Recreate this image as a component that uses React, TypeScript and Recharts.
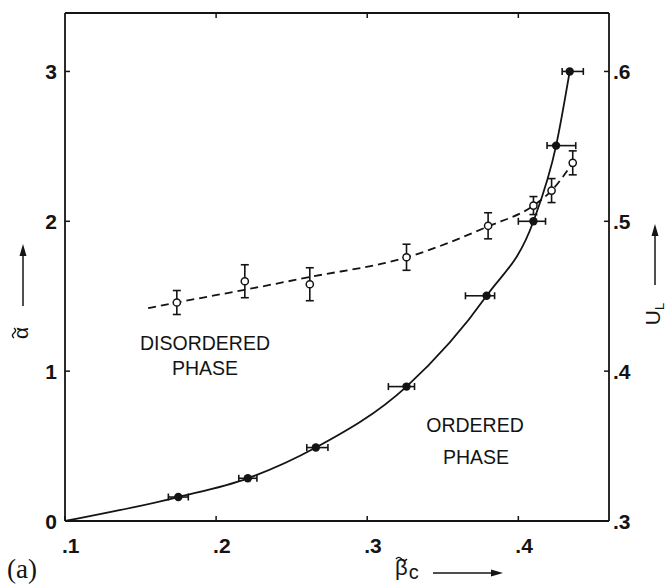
import React from 'react';
import { ComposedChart, XAxis, YAxis, Line, Scatter, ErrorBar } from 'recharts';

const W = 671;
const H = 588;
const INK = '#141414';
const SANS = '"Liberation Sans", Arial, Helvetica, sans-serif';

// Axis ticks
const betaTicks = [0.1, 0.2, 0.3, 0.4];
const betaTopTicks = [0.2, 0.3, 0.4];
const alphaTicks = [0, 1, 2, 3];
const ulTicks = [0.3, 0.4, 0.5, 0.6];

// Ordered / disordered boundary: α̃ against β̃c (filled points, horizontal errors)
const boundaryBeta = [0.175, 0.221, 0.266, 0.326, 0.379, 0.41, 0.425, 0.434];
const boundaryAlpha = [0.16, 0.285, 0.49, 0.897, 1.503, 2.0, 2.505, 3.0];
const boundaryBetaErr = [
  [0.0066, 0.0066],
  [0.006, 0.006],
  [0.006, 0.008],
  [0.012, 0.0053],
  [0.014, 0.0053],
  [0.01, 0.008],
  [0.006, 0.013],
  [0.005, 0.009],
];
// Solid guide curve through the boundary
const boundaryCurveBeta = [0.1, 0.175, 0.221, 0.266, 0.326, 0.379, 0.41, 0.425, 0.434];
const boundaryCurveAlpha = [0.0, 0.16, 0.285, 0.49, 0.897, 1.503, 2.0, 2.505, 3.0];

// Cumulant U_L at the transition (open points, right axis)
const cumulantBeta = [0.174, 0.219, 0.262, 0.326, 0.38, 0.41, 0.422, 0.436];
const cumulantUL = [0.4458, 0.46, 0.458, 0.476, 0.497, 0.5105, 0.5205, 0.539];
const cumulantErr = [0.008, 0.011, 0.011, 0.0087, 0.0087, 0.006, 0.008, 0.008];
// Dashed fit through the cumulant values
const cumulantCurveBeta = [0.155, 0.174, 0.219, 0.262, 0.326, 0.38, 0.41, 0.422, 0.436];
const cumulantCurveUL = [0.442, 0.4458, 0.4543, 0.4628, 0.4759, 0.4966, 0.5105, 0.5205, 0.539];

const boundaryPoints = boundaryBeta.map((x, i) => ({ x, y: boundaryAlpha[i], ex: boundaryBetaErr[i] }));
const boundaryCurve = boundaryCurveBeta.map((x, i) => ({ x, y: boundaryCurveAlpha[i] }));
const cumulantPoints = cumulantBeta.map((x, i) => ({ x, y: cumulantUL[i], ey: cumulantErr[i] }));
const cumulantCurve = cumulantCurveBeta.map((x, i) => ({ x, y: cumulantCurveUL[i] }));

const decimal = (v: number) => v.toFixed(1).replace(/^0/, '');

const tickText = {
  fontFamily: SANS,
  fontSize: 21,
  fontWeight: 700,
  fill: INK,
} as const;

const BottomTick = (p: any) => (
  <g>
    <line x1={p.x} y1={p.y} x2={p.x} y2={p.y - 5} stroke={INK} strokeWidth={1.5} />
    <text x={p.x - 3} y={p.y + 32} textAnchor="start" {...tickText}>
      {decimal(p.payload.value)}
    </text>
  </g>
);

const TopTick = (p: any) => (
  <line x1={p.x} y1={p.y} x2={p.x} y2={p.y + 5} stroke={INK} strokeWidth={1.5} />
);

const LeftTick = (p: any) => (
  <g>
    <line x1={p.x} y1={p.y} x2={p.x + 5} y2={p.y} stroke={INK} strokeWidth={1.5} />
    <text x={p.x - 8} y={p.y + 8} textAnchor="end" {...tickText}>
      {String(p.payload.value)}
    </text>
  </g>
);

const RightTick = (p: any) => (
  <g>
    <line x1={p.x} y1={p.y} x2={p.x - 5} y2={p.y} stroke={INK} strokeWidth={1.5} />
    <text x={p.x + 4} y={p.y + 8} textAnchor="start" {...tickText}>
      {decimal(p.payload.value)}
    </text>
  </g>
);

const FilledDot = (p: any) => <circle cx={p.cx} cy={p.cy} r={4.2} fill={INK} />;
const OpenDot = (p: any) => (
  <circle cx={p.cx} cy={p.cy} r={3.6} fill="#fff" stroke={INK} strokeWidth={1.5} />
);

const axisLine = { stroke: INK, strokeWidth: 1.8 };

const phaseText = {
  fontFamily: SANS,
  fontSize: 19.5,
  fill: INK,
  textAnchor: 'middle',
} as const;

export default function App() {
  return (
    <div style={{ position: 'absolute', left: 0, top: 0, width: W, height: H, background: '#fff' }}>
      <ComposedChart width={W} height={H} margin={{ top: 0, right: 0, bottom: 0, left: 0 }}>
        <XAxis
          xAxisId="b"
          dataKey="x"
          type="number"
          domain={[0.1, 0.46]}
          ticks={betaTicks}
          allowDataOverflow
          height={67}
          tickSize={0}
          tickMargin={0}
          tickLine={false}
          axisLine={axisLine}
          tick={BottomTick}
          interval={0}
        />
        <XAxis
          xAxisId="t"
          orientation="top"
          dataKey="x"
          type="number"
          domain={[0.1, 0.46]}
          ticks={betaTopTicks}
          allowDataOverflow
          height={13}
          tickSize={0}
          tickMargin={0}
          tickLine={false}
          axisLine={axisLine}
          tick={TopTick}
          interval={0}
        />
        <YAxis
          yAxisId="l"
          type="number"
          domain={[0, 3.39]}
          ticks={alphaTicks}
          allowDataOverflow
          width={65}
          tickSize={0}
          tickMargin={0}
          tickLine={false}
          axisLine={axisLine}
          tick={LeftTick}
          interval={0}
        />
        <YAxis
          yAxisId="r"
          orientation="right"
          type="number"
          domain={[0.3, 0.639]}
          ticks={ulTicks}
          allowDataOverflow
          width={62}
          tickSize={0}
          tickMargin={0}
          tickLine={false}
          axisLine={axisLine}
          tick={RightTick}
          interval={0}
        />

        <Line
          xAxisId="b"
          yAxisId="l"
          data={boundaryCurve}
          dataKey="y"
          type="monotone"
          stroke={INK}
          strokeWidth={1.8}
          dot={false}
          activeDot={false}
          isAnimationActive={false}
        />
        <Line
          xAxisId="b"
          yAxisId="r"
          data={cumulantCurve}
          dataKey="y"
          type="monotone"
          stroke={INK}
          strokeWidth={1.8}
          strokeDasharray="8 5"
          dot={false}
          activeDot={false}
          isAnimationActive={false}
        />

        <Scatter
          xAxisId="b"
          yAxisId="r"
          data={cumulantPoints}
          dataKey="y"
          shape={OpenDot}
          isAnimationActive={false}
        >
          <ErrorBar dataKey="ey" direction="y" width={4} stroke={INK} strokeWidth={1.6} />
        </Scatter>
        <Scatter
          xAxisId="b"
          yAxisId="l"
          data={boundaryPoints}
          dataKey="y"
          shape={FilledDot}
          isAnimationActive={false}
        >
          <ErrorBar dataKey="ex" direction="x" width={3.5} stroke={INK} strokeWidth={1.6} />
        </Scatter>
      </ComposedChart>

      <svg
        width={W}
        height={H}
        style={{ position: 'absolute', left: 0, top: 0, pointerEvents: 'none' }}
      >
        {/* phase labels */}
        <text x={205} y={350} {...phaseText}>DISORDERED</text>
        <text x={205} y={375} {...phaseText}>PHASE</text>
        <text x={475} y={432} {...phaseText}>ORDERED</text>
        <text x={476} y={464} {...phaseText}>PHASE</text>

        {/* left axis title: α with tilde, reading upwards */}
        <g transform="translate(28,333) rotate(-90)">
          <text x={0} y={0} textAnchor="middle" fontFamily={SANS} fontSize={21} fill={INK}>
            α
          </text>
          <path d="M -5 -14 q 2.5 -3.2 5 0 t 5 0" fill="none" stroke={INK} strokeWidth={1.4} />
        </g>
        <line x1={23} y1={306} x2={23} y2={254} stroke={INK} strokeWidth={1.5} />
        <polygon points="23,244 19.5,256 26.5,256" fill={INK} />

        {/* right axis title */}
        <text
          transform="translate(660,314) rotate(-90)"
          textAnchor="middle"
          fontFamily={SANS}
          fontSize={21}
          fill={INK}
        >
          U<tspan dy={4} fontSize={13}>L</tspan>
        </text>
        <line x1={655} y1={285} x2={655} y2={235} stroke={INK} strokeWidth={1.5} />
        <polygon points="655,224 651.5,236 658.5,236" fill={INK} />

        {/* bottom axis title: β with tilde, subscript c */}
        <text x={395} y={575} fontFamily={SANS} fontSize={22} fill={INK}>
          β<tspan dy={4} dx={1} fontSize={20}>c</tspan>
        </text>
        <path d="M 396 559 q 2.75 -3.2 5.5 0 t 5.5 0" fill="none" stroke={INK} strokeWidth={1.4} />
        <line x1={433} y1={573} x2={492} y2={573} stroke={INK} strokeWidth={1.5} />
        <polygon points="503,573 491,569.5 491,576.5" fill={INK} />

        {/* panel tag */}
        <text x={7} y={578} fontFamily='"Liberation Serif", "Times New Roman", serif' fontSize={27} fill={INK}>
          (a)
        </text>
      </svg>
    </div>
  );
}
